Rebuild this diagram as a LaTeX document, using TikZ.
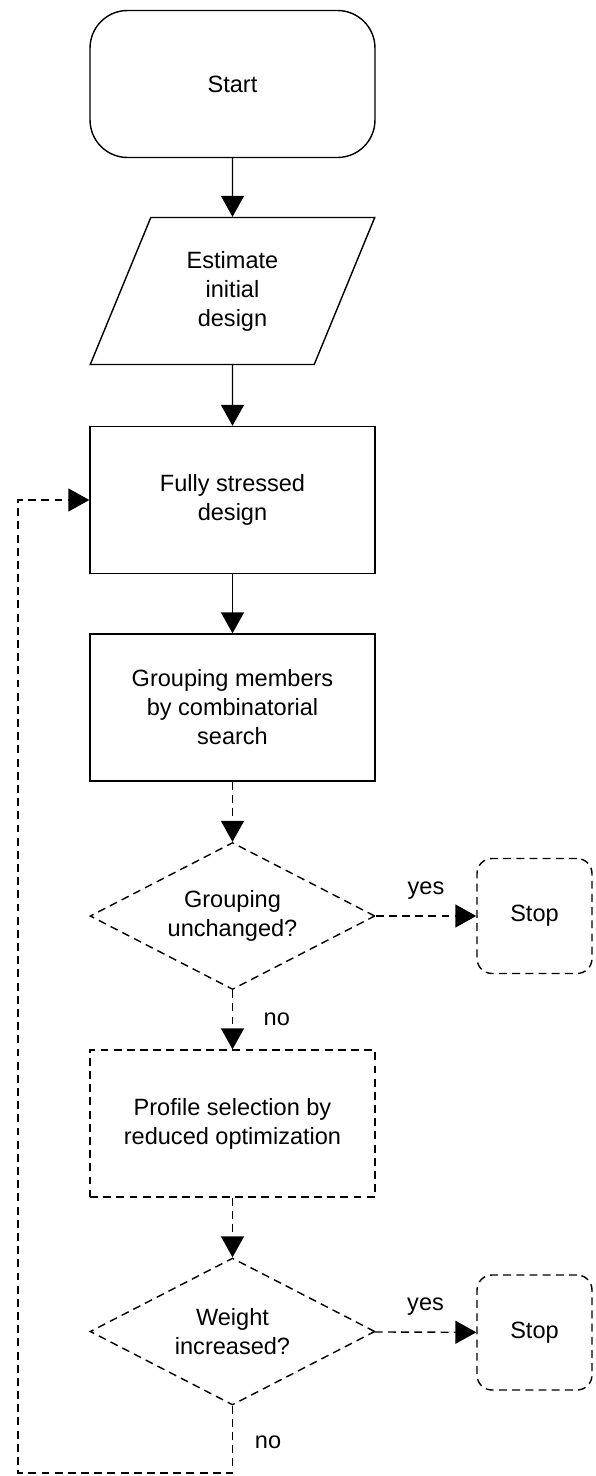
\documentclass[tikz,border=0pt]{standalone}
\usepackage{fontspec}
\setmainfont{Liberation Sans}
\usepackage{tikz}
\usetikzlibrary{shapes.geometric , arrows.meta}

\begin{document}
\begin{tikzpicture}[x = 0.02cm , y = -0.02cm ,
    every node/.style = {font = \fontsize{13.4}{16.5}\selectfont , align = center},
    box/.style = {draw , line width = 0.8pt , minimum width = 5.7cm , minimum height = 2.94cm , inner sep = 0pt},
    dbox/.style = {box , dashed , dash pattern = on 4.5pt off 3pt},
    flow/.style = {line width = 0.8pt , -{Triangle[length = 0.42cm , width = 0.46cm]}},
    dflow/.style = {flow , dash pattern = on 4.5pt off 3pt}]
    \useasboundingbox (0,0) rectangle (595,1476);

    % Knoten
    \node[box , rounded corners = 0.75cm] (start) at (232.5,84) {Start};
    \node[box , trapezium , trapezium left angle = 67 , trapezium right angle = 113 , trapezium stretches = true] (est) at (232.5,291) {Estimate\\initial\\design};
    \node[box] (fsd) at (232.5,500) {Fully stressed\\design};
    \node[box] (grp) at (232.5,707.5) {Grouping members\\by combinatorial\\search};
    \node[dbox , diamond , aspect = 1.94] (gun) at (232.5,916) {Grouping\\unchanged?};
    \node[dbox , rounded corners = 0.3cm , minimum width = 2.3cm , minimum height = 2.3cm] (stopa) at (534.5,916) {Stop};
    \node[dbox] (prof) at (232.5,1123.5) {Profile selection by\\reduced optimization};
    \node[dbox , diamond , aspect = 1.94] (win) at (232.5,1331.5) {Weight\\increased?};
    \node[dbox , rounded corners = 0.3cm , minimum width = 2.3cm , minimum height = 2.3cm] (stopb) at (534.5,1332.5) {Stop};
    \coordinate (back) at (18,1473); % Ecke unten links

    % Verbindungen
    \draw[flow] (start) -- (est);
    \draw[flow] (est) -- (fsd);
    \draw[flow] (fsd) -- (grp);
    \draw[dflow] (grp) -- (gun);
    \draw[dflow] (gun) -- (stopa) node[midway , above = 6pt]{yes};
    \draw[dflow] (gun) -- (prof) node[midway , right = 14pt]{no};
    \draw[dflow] (prof) -- (win);
    \draw[dflow] (win) -- (stopb) node[midway , above = 6pt]{yes};
    \draw[dflow] (win.south) |- (back) |- (fsd.west);
    \node at (268,1442) {no};
\end{tikzpicture}
\end{document}
